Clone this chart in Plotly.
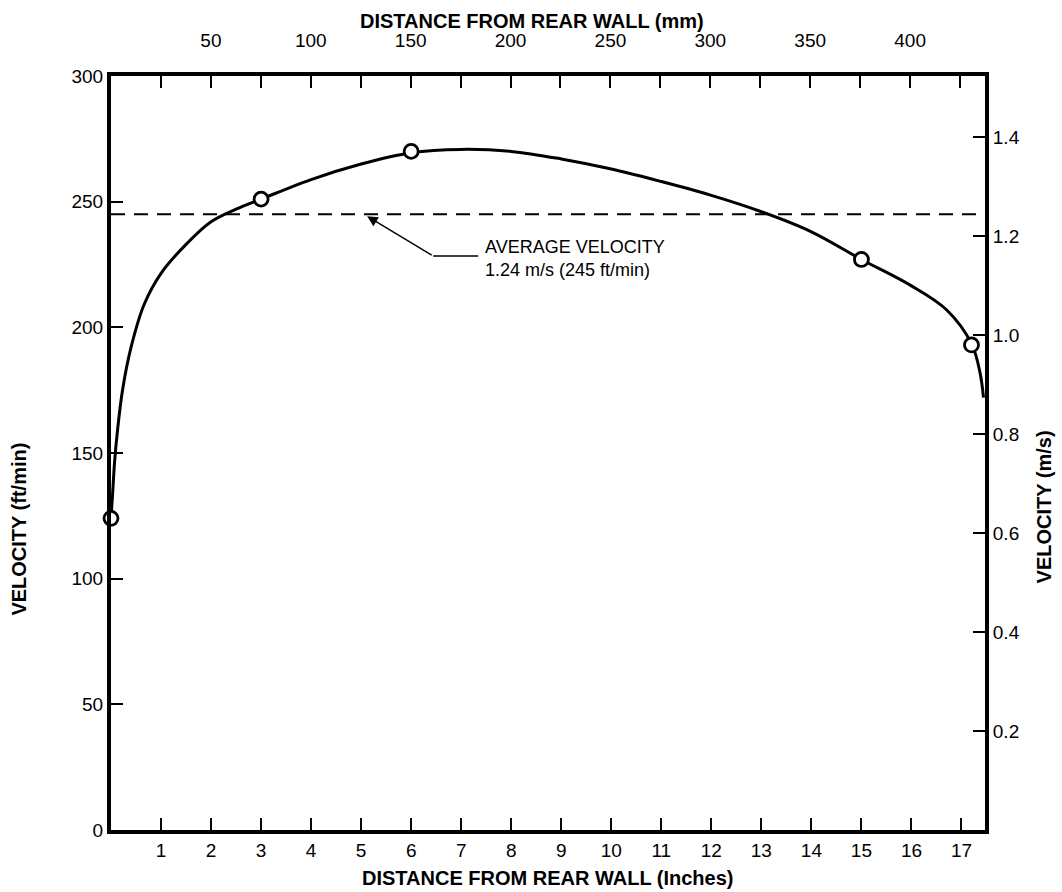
import plotly.graph_objects as go

# ---- data ----
meas_in = [0.0, 3.0, 6.0, 15.0, 17.2]
meas_ftmin = [124, 251, 270, 227, 193]

curve_in = [0.0, 0.03, 0.07, 0.13, 0.23, 0.40, 0.66, 1.0, 1.5, 2.0, 2.5, 3.0,
            4.0, 5.0, 6.0, 7.0, 8.0, 9.0, 10.0, 11.0, 12.0, 13.0, 14.0, 15.0,
            16.0, 16.7, 17.2, 17.37, 17.44]
curve_ftmin = [124, 133, 146, 159, 175, 192, 209, 221.5, 233, 242, 247, 251,
               258.8, 265, 269.5, 270.8, 270, 267, 263, 258, 252.5, 246, 238, 227,
               216.5, 207, 193.5, 182, 172]

avg_ftmin = 245
avg_label = "AVERAGE VELOCITY<br>1.24 m/s (245 ft/min)"

bottom_ticks = list(range(1, 18))
left_ticks = [0, 50, 100, 150, 200, 250, 300]
top_tick_vals = list(range(25, 450, 25))
top_tick_text = [str(v) if (v % 50 == 0 and v <= 400) else "" for v in top_tick_vals]
right_ticks = [0.2, 0.4, 0.6, 0.8, 1.0, 1.2, 1.4]
right_tick_text = ["0.2", "0.4", "0.6", "0.8", "1.0", "1.2", "1.4"]

FT_PER_MS = 196.85
X_MAX_IN = 17.47
Y_MAX = 300
MM_MAX = 437.5

FONT = "Liberation Sans"
TICKFONT = dict(family=FONT, size=19, color="black")
TITLEFONT = dict(family=FONT, size=20, color="black")

fig = go.Figure()

fig.add_trace(go.Scatter(
    x=curve_in, y=curve_ftmin, mode="lines",
    line=dict(color="black", width=3, shape="spline", smoothing=1.0),
    hoverinfo="skip", showlegend=False, cliponaxis=False))

fig.add_trace(go.Scatter(
    x=meas_in, y=meas_ftmin, mode="markers",
    marker=dict(symbol="circle", size=14, color="white",
                line=dict(color="black", width=2.8)),
    showlegend=False, cliponaxis=False))

# dummy traces to activate secondary axes
fig.add_trace(go.Scatter(x=[None], y=[None], xaxis="x2", yaxis="y", showlegend=False))
fig.add_trace(go.Scatter(x=[None], y=[None], xaxis="x", yaxis="y2", showlegend=False))

# average velocity dashed line
fig.add_shape(type="line", xref="x domain", yref="y", x0=0, x1=0.992,
              y0=avg_ftmin, y1=avg_ftmin,
              line=dict(color="black", width=2.2, dash="14px,9px"))

# leader line knee + arrow
fig.add_shape(type="line", xref="x", yref="y", x0=6.44, x1=7.34, y0=228.4, y1=228.4,
              line=dict(color="black", width=1.5))
fig.add_annotation(x=5.12, y=244.2, ax=6.44, ay=228.4, axref="x", ayref="y",
                   xref="x", yref="y", text="", showarrow=True,
                   arrowhead=2, arrowsize=1.4, arrowwidth=1.5, arrowcolor="black",
                   standoff=0, startstandoff=0)
fig.add_annotation(x=7.44, y=227.5, xref="x", yref="y", text=avg_label,
                   showarrow=False, xanchor="left", yanchor="middle", align="left",
                   font=dict(family=FONT, size=18, color="black"))

# axis titles
title_kw = dict(xref="paper", yref="paper", showarrow=False, font=TITLEFONT,
                xanchor="center", yanchor="middle")
fig.add_annotation(text="<b>DISTANCE FROM REAR WALL (mm)</b>", x=0.4817, y=1.0728, **title_kw)
fig.add_annotation(text="<b>DISTANCE FROM REAR WALL (Inches)</b>", x=0.4989, y=-0.0636, **title_kw)
fig.add_annotation(text="<b>VELOCITY (ft/min)</b>", x=-0.105, y=0.3987, textangle=-90, **title_kw)
fig.add_annotation(text="<b>VELOCITY (m/s)</b>", x=1.0674, y=0.429, textangle=-90, **title_kw)

axis_common = dict(showline=True, linecolor="black", linewidth=4, ticks="inside",
                   ticklen=12, tickwidth=2, tickcolor="black", showgrid=False,
                   zeroline=False, tickfont=TICKFONT, automargin=False)

fig.update_layout(
    width=1062, height=892,
    margin=dict(l=111, r=77, t=76, b=62, autoexpand=False),
    paper_bgcolor="white", plot_bgcolor="white",
    xaxis=dict(range=[0, X_MAX_IN], tickvals=bottom_ticks,
               ticktext=[str(v) for v in bottom_ticks], side="bottom", **axis_common),
    xaxis2=dict(range=[0, MM_MAX], overlaying="x", side="top", tickvals=top_tick_vals,
                ticktext=top_tick_text, ticklabelstandoff=17, **axis_common),
    yaxis=dict(range=[0, Y_MAX], tickvals=left_ticks,
               ticktext=[str(v) for v in left_ticks], **axis_common),
    yaxis2=dict(range=[0, Y_MAX / FT_PER_MS], overlaying="y", side="right",
                tickvals=right_ticks, ticktext=right_tick_text, **axis_common),
)

fig.write_html("out.html", config={"displayModeBar": False},
               post_script="document.body.style.margin='0px';document.body.style.overflow='hidden';")
